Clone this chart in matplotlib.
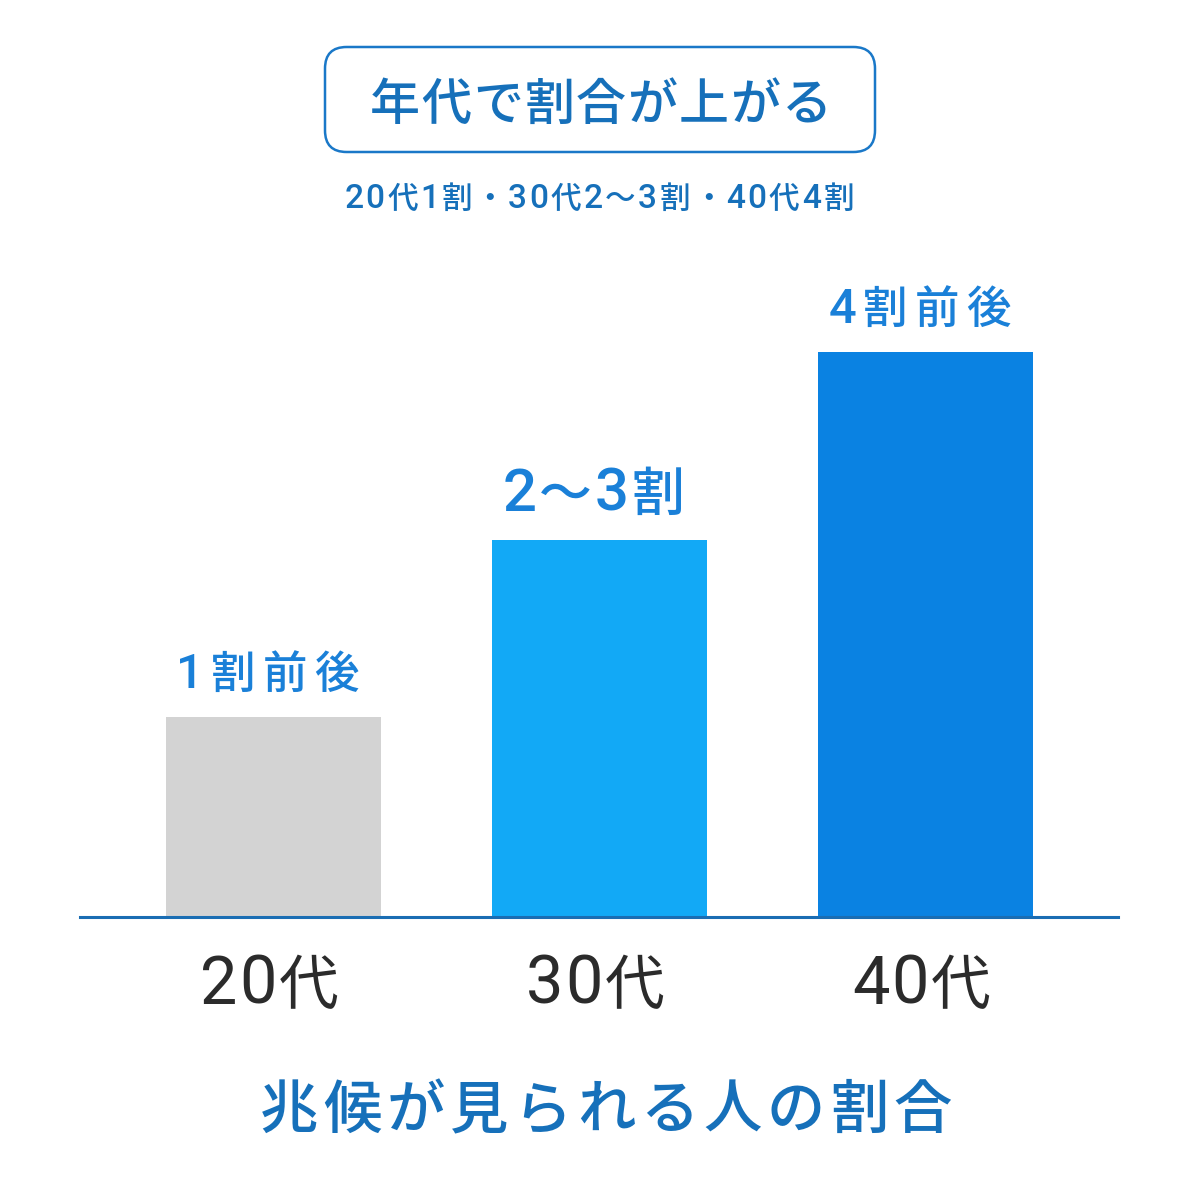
import matplotlib
matplotlib.use("Agg")
import matplotlib.pyplot as plt
from matplotlib.patches import FancyBboxPatch
from matplotlib.font_manager import FontProperties, findfont, get_font
from matplotlib.ft2font import LOAD_NO_HINTING

plt.rcParams["font.family"] = ["Noto Sans CJK JP", "DejaVu Sans"]

# データ
ages = ["20代", "30代", "40代"]
heights = [10.0, 18.9, 28.3]  # 棒の見た目の高さ
value_labels = ["1割前後", "2～3割", "4割前後"]
bar_colors = ["#D3D3D3", "#12A9F6", "#0A82E2"]

title = "年代で割合が上がる"
subtitle = "20代1割・30代2～3割・40代4割"
xlabel = "兆候が見られる人の割合"

W = H = 1200
DPI = 100
CJK = "Noto Sans CJK JP"
LATIN = "Roboto"


def advance(ch, family, size, weight):
    # 1文字の送り幅 (px)
    path = findfont(FontProperties(family=family, weight=weight))
    font = get_font(path)
    font.set_size(size, DPI)
    g = font.load_char(ord(ch), flags=LOAD_NO_HINTING)
    return g.linearHoriAdvance / 65536


def spaced_text(fig, cx, base_y, s, size, color, track=0.0, weight="medium",
                digit_size=None, digit_weight=None):
    # 字間をあけて中央揃えで描く (cx, base_y はピクセル, 上から)
    digit_size = digit_size or size
    digit_weight = digit_weight or weight
    parts = []
    for ch in s:
        if ch.isdigit():
            parts.append((ch, LATIN, digit_size, digit_weight))
        else:
            parts.append((ch, CJK, size, weight))
    advs = [advance(*p) for p in parts]
    total = sum(advs) + track * (len(parts) - 1)
    x = cx - total / 2
    for (ch, fam, sz, wt), a in zip(parts, advs):
        fig.text(x / W, 1 - base_y / H, ch, family=[fam, "DejaVu Sans"],
                 fontsize=sz, fontweight=wt, color=color,
                 ha="left", va="baseline")
        x += a + track


fig = plt.figure(figsize=(W / DPI, H / DPI), dpi=DPI)
fig.patch.set_facecolor("white")

# 軸の位置 (ピクセル基準: 左80, 右1118, 下917, 上352)
ax = fig.add_axes([80 / W, 1 - 917 / H, 1038 / W, 565 / H])
x = list(range(len(ages)))
ax.bar(x, heights, width=0.66, color=bar_colors, zorder=2)
ax.set_xlim(-0.593, 2.59)
ax.set_ylim(0, heights[-1])

for s in ["top", "right", "left"]:
    ax.spines[s].set_visible(False)
ax.spines["bottom"].set_color("#1A6DB3")
ax.spines["bottom"].set_linewidth(2.2)
ax.spines["bottom"].set_zorder(3)
ax.set_yticks([])
ax.set_xticks(x)
ax.set_xticklabels([])
ax.tick_params(axis="x", length=0)

# 目盛りラベルと棒の上のラベル
label_sizes = [32, 38, 32]
label_digit_sizes = [35, 43, 35]
label_tracks = [7, 3, 7]
for xi, h, lab, age, ls, lds, lt in zip(x, heights, value_labels, ages,
                                         label_sizes, label_digit_sizes,
                                         label_tracks):
    px, py = ax.transData.transform((xi, h))
    spaced_text(fig, px - 6, H - py - 29, lab, ls, "#1A80D8", track=lt,
                digit_size=lds)
    bx, by = ax.transData.transform((xi, 0))
    spaced_text(fig, bx - 4, H - by + 87, age, 43, "#2B2B2B", track=2,
                weight="regular", digit_size=48)

# タイトルの枠
box = FancyBboxPatch((325 / W, 1 - 152 / H), 550 / W, 105 / H,
                     boxstyle="round,pad=0,rounding_size=0.018",
                     transform=fig.transFigure, facecolor="white",
                     edgecolor="#1A78C8", linewidth=1.8)
fig.patches.append(box)
spaced_text(fig, 601, 120, title, 36, "#1670BA", track=1.5)
spaced_text(fig, 599, 208, subtitle, 22, "#1670BA", track=2.5, digit_size=24)

spaced_text(fig, 606, 1128, xlabel, 42, "#1670BA", track=5)

fig.savefig("out.png", dpi=DPI, facecolor="white")
